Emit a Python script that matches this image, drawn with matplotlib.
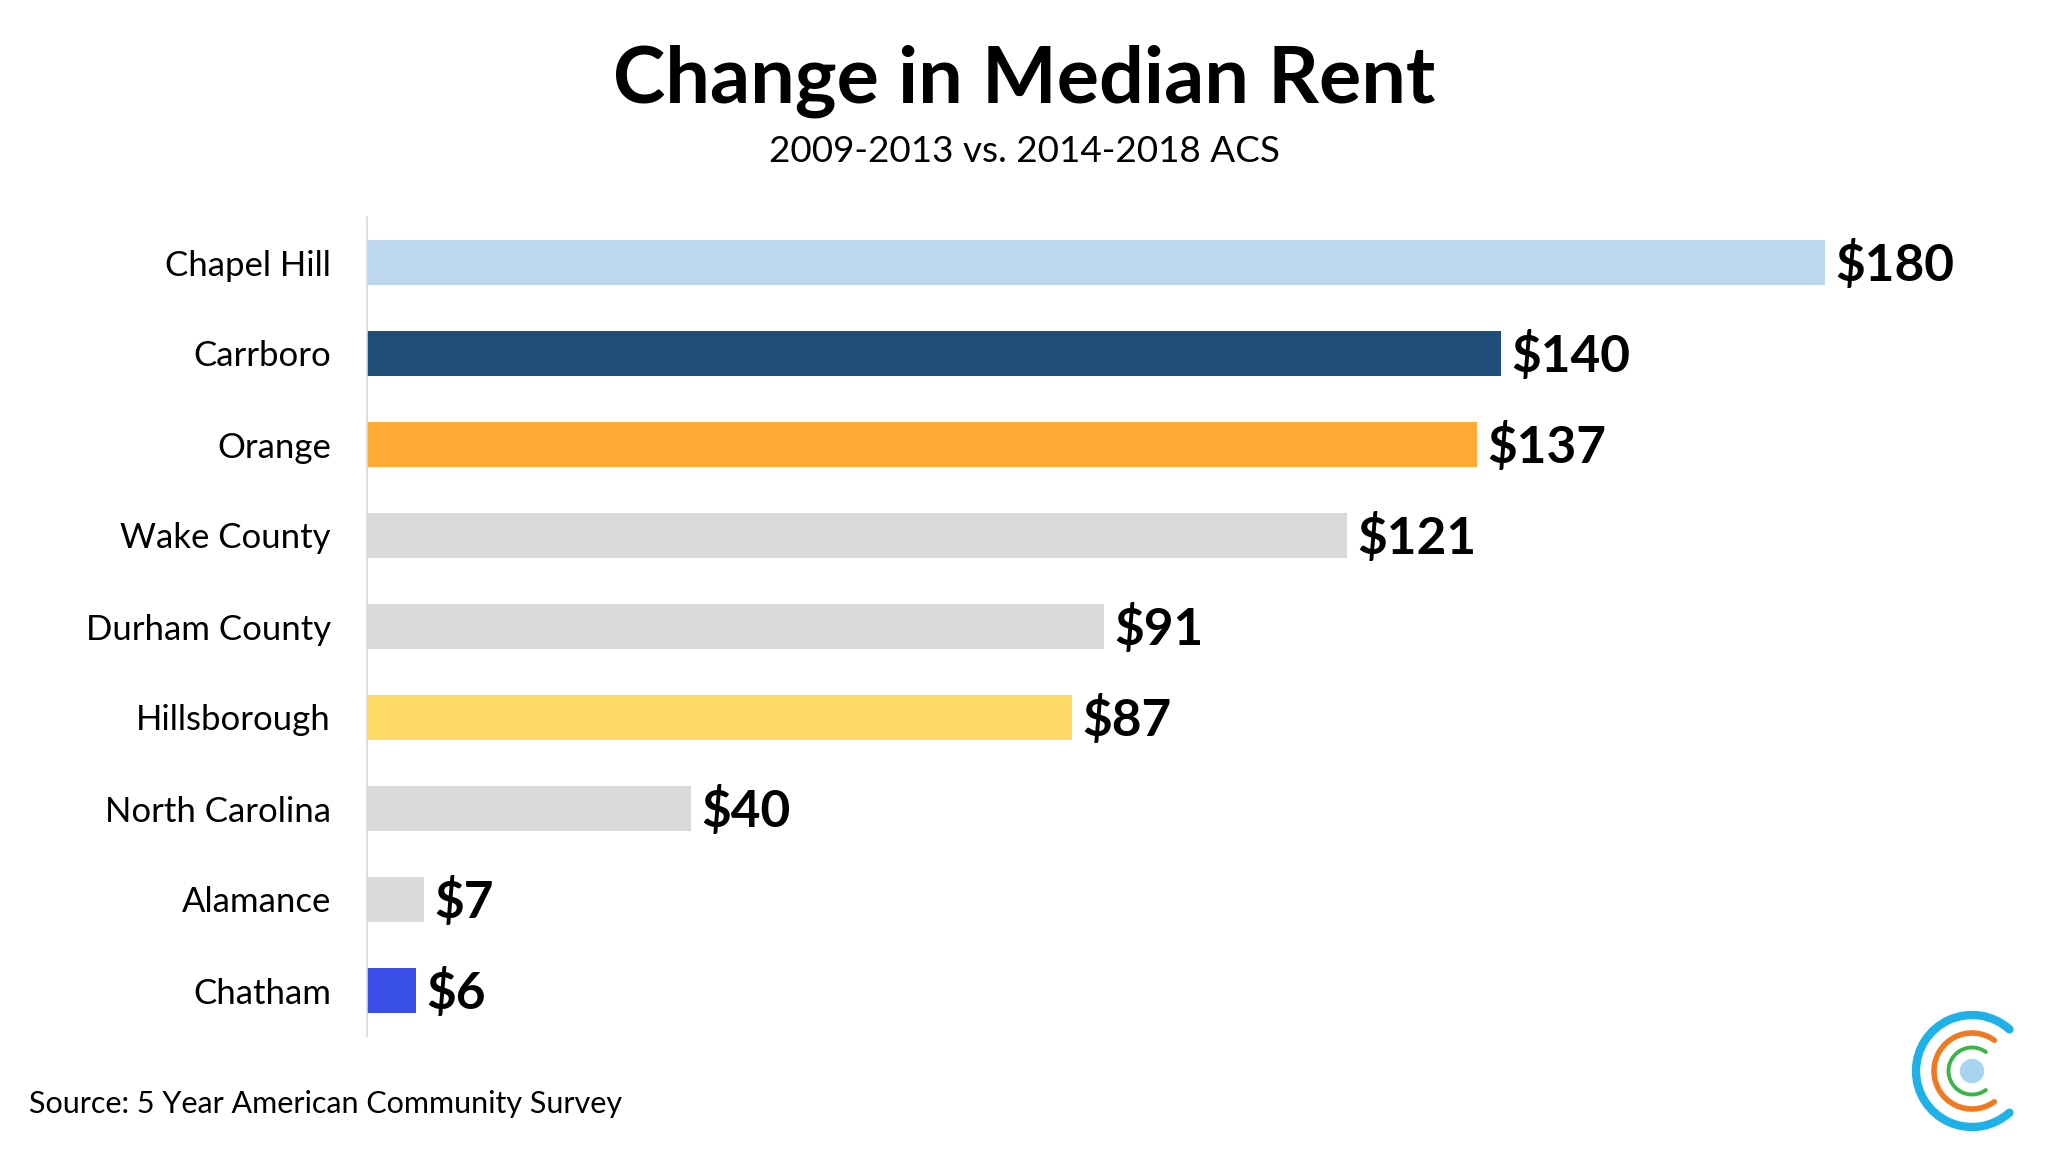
import numpy as np
import matplotlib
matplotlib.use('Agg')
import matplotlib.pyplot as plt
from matplotlib.patches import Arc, Circle

# data
places = ['Chapel Hill', 'Carrboro', 'Orange', 'Wake County', 'Durham County',
          'Hillsborough', 'North Carolina', 'Alamance', 'Chatham']
rent_change = [180, 140, 137, 121, 91, 87, 40, 7, 6]
bar_colors = ['#BDD7EE', '#1F4E79', '#FFAA33', '#D9D9D9', '#D9D9D9',
              '#FFD966', '#D9D9D9', '#D9D9D9', '#3A4FE8']

title = 'Change in Median Rent'
subtitle = '2009-2013 vs. 2014-2018 ACS'
source = 'Source: 5 Year American Community Survey'

plt.rcParams['font.family'] = ['Lato', 'DejaVu Sans']

W, H = 2048, 1152
fig = plt.figure(figsize=(W/100, H/100), dpi=100)
fig.patch.set_facecolor('white')

# axes placed in pixel terms: left spine at x=367, spans y 217..1036
left, right = 367, 1900
ax = fig.add_axes([left/W, 1-1036/H, (right-left)/W, (1036-217)/H])
px_per_unit = 8.1
ax.set_xlim(0, (right-left)/px_per_unit)
ax.set_ylim(len(places)-0.5, -0.5)

y = np.arange(len(places))
ax.barh(y, rent_change, height=0.5, color=bar_colors)

for yi, v in zip(y, rent_change):
    ax.text(v + 1.3, yi + 0.03, '$' + str(v), va='center', ha='left',
            fontsize=37, fontweight='bold', color='black')

ax.set_yticks(y)
ax.set_yticklabels(places, fontsize=25)
ax.tick_params(axis='y', length=0, pad=26)
ax.set_xticks([])
for s in ['top', 'right', 'bottom']:
    ax.spines[s].set_visible(False)
ax.spines['left'].set_color('#D9D9D9')
ax.spines['left'].set_linewidth(1.2)

fig.text(0.5, 1-81/H, title, ha='center', va='center', fontsize=57, fontweight='bold')
fig.text(0.5, 1-152/H, subtitle, ha='center', va='center', fontsize=26.6)
fig.text(29/W, 1-1104/H, source, ha='left', va='center', fontsize=22)

# logo, bottom right
lax = fig.add_axes([(1972-70)/W, 1-(1071+70)/H, 140/W, 140/H])
lax.set_xlim(-70, 70)
lax.set_ylim(-70, 70)
lax.set_aspect('equal')
lax.axis('off')
lax.add_patch(Arc((0, 0), 112, 112, theta1=48, theta2=312, color='#1EB1E7', lw=6, capstyle='round'))
lax.add_patch(Arc((0, 0), 76, 76, theta1=54, theta2=306, color='#F07A22', lw=4, capstyle='round'))
lax.add_patch(Arc((0, 0), 47, 47, theta1=54, theta2=306, color='#3BB54A', lw=2.8, capstyle='round'))
lax.add_patch(Circle((0, 0), 11.5, color='#A8D4F0'))

fig.savefig('out.png', dpi=100, facecolor='white')
